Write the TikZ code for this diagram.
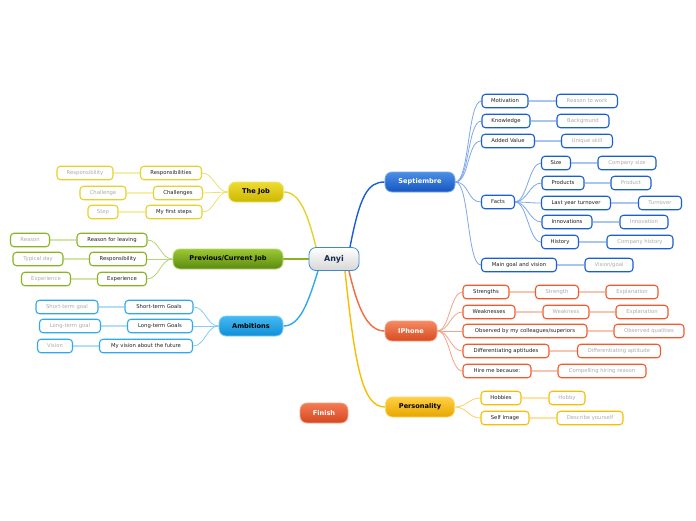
\documentclass[tikz,border=0pt]{standalone}
\usepackage{fontspec}
\setmainfont{DejaVu Sans}
\usetikzlibrary{calc}
\pgfdeclarelayer{background}
\pgfsetlayers{background,main}
\definecolor{sepT}{HTML}{4A8EE6}\definecolor{sepB}{HTML}{1656C0}\definecolor{sepD}{HTML}{7AAAE8}
\definecolor{sepC}{HTML}{1A5FD0}\definecolor{sepL}{HTML}{7EA8EA}\definecolor{sepLL}{HTML}{A8C6F2}
\definecolor{iphT}{HTML}{F58A62}\definecolor{iphB}{HTML}{D84A20}\definecolor{iphD}{HTML}{F5A080}
\definecolor{iphC}{HTML}{F05A2C}\definecolor{iphL}{HTML}{F6A488}\definecolor{iphLL}{HTML}{F8C4B2}
\definecolor{perT}{HTML}{FFD042}\definecolor{perB}{HTML}{E6A600}\definecolor{perD}{HTML}{FFD870}
\definecolor{perC}{HTML}{F8BE00}\definecolor{perL}{HTML}{FBD060}\definecolor{perLL}{HTML}{FDE2A0}
\definecolor{jobT}{HTML}{EEDC34}\definecolor{jobB}{HTML}{CCB600}\definecolor{jobD}{HTML}{F2E670}
\definecolor{jobC}{HTML}{E6D22A}\definecolor{jobL}{HTML}{EEE070}\definecolor{jobLL}{HTML}{F6EEAA}
\definecolor{prvT}{HTML}{9CC832}\definecolor{prvB}{HTML}{5A8A10}\definecolor{prvD}{HTML}{B6D870}
\definecolor{prvC}{HTML}{88B422}\definecolor{prvL}{HTML}{B4D478}\definecolor{prvLL}{HTML}{D0E6A8}
\definecolor{ambT}{HTML}{44BAF2}\definecolor{ambB}{HTML}{108ED6}\definecolor{ambD}{HTML}{80D0F6}
\definecolor{ambC}{HTML}{30A8EC}\definecolor{ambL}{HTML}{84CCF4}\definecolor{ambLL}{HTML}{B2DEF8}
\definecolor{finT}{HTML}{F47A52}\definecolor{finB}{HTML}{D44820}\definecolor{finD}{HTML}{F6A488}
\definecolor{anyC}{HTML}{3A8AD0}\definecolor{anyT}{HTML}{1A2A50}
\tikzset{
  mainbox/.style={rounded corners=7pt, minimum height=20pt, inner sep=0pt, line width=0.8pt,
    font=\bfseries\fontsize{6.6}{7}\selectfont},
  subbox/.style={draw, fill=white, rounded corners=3.5pt, minimum height=13.5pt, inner sep=0pt,
    line width=1.1pt, font=\fontsize{5.3}{6}\selectfont, text=black!88},
  leafbox/.style={subbox, text=black!33},
  subS/.style={subbox, draw=sepC}, leafS/.style={leafbox, draw=sepC},
  subI/.style={subbox, draw=iphC}, leafI/.style={leafbox, draw=iphC},
  subP/.style={subbox, draw=perC}, leafP/.style={leafbox, draw=perC},
  subJ/.style={subbox, draw=jobC}, leafJ/.style={leafbox, draw=jobC},
  subV/.style={subbox, draw=prvC}, leafV/.style={leafbox, draw=prvC},
  subA/.style={subbox, draw=ambC}, leafA/.style={leafbox, draw=ambC},
  link/.style={line width=0.8pt},
  leaflink/.style={line width=1.4pt},
  hub/.style={line width=1.4pt},
}
\begin{document}
\begin{tikzpicture}[x=1pt,y=-1pt]
\useasboundingbox (0,0) rectangle (696,520);
% central
\node[mainbox, draw=anyC, top color=white, bottom color=black!16, text=anyT,
  font=\bfseries\fontsize{8}{9}\selectfont, minimum width=50pt, minimum height=23pt] (anyi) at (334,259) {Anyi};
% main topics
\node[mainbox, draw=sepD, top color=sepT, bottom color=sepB, text=white, minimum width=70pt] (sep) at (420,182) {Septiembre};
\node[mainbox, draw=iphD, top color=iphT, bottom color=iphB, text=white, minimum width=52pt] (iph) at (411,331) {IPhone};
\node[mainbox, draw=perD, top color=perT, bottom color=perB, text=black, minimum width=69pt] (pers) at (420,407) {Personality};
\node[mainbox, draw=finD, top color=finT, bottom color=finB, text=white, minimum width=48pt] (fin) at (324,413) {Finish};
\node[mainbox, draw=jobD, top color=jobT, bottom color=jobB, text=black, minimum width=55pt] (job) at (256,192) {The Job};
\node[mainbox, draw=prvD, top color=prvT, bottom color=prvB, text=black, minimum width=110pt] (prev) at (228,259) {Previous/Current Job};
\node[mainbox, draw=ambD, top color=ambT, bottom color=ambB, text=black, minimum width=64pt] (amb) at (251,326) {Ambitions};
% Septiembre
\node[subS, minimum width=46pt] (mot) at (505,101) {Motivation};
\node[leafS, minimum width=61pt] (rtw) at (587,101) {Reason to work};
\node[subS, minimum width=48pt] (kno) at (506,121) {Knowledge};
\node[leafS, minimum width=52pt] (bg) at (583,121) {Background};
\node[subS, minimum width=53pt] (av) at (508,141) {Added Value};
\node[leafS, minimum width=51pt] (us) at (587,141) {Unique skill};
\node[subS, minimum width=33pt] (facts) at (498,202) {Facts};
\node[subS, minimum width=29pt] (size) at (556,163) {Size};
\node[leafS, minimum width=58pt] (csize) at (627,163) {Company size};
\node[subS, minimum width=42pt] (prod) at (563,183) {Products};
\node[leafS, minimum width=40pt] (product) at (631,183) {Product};
\node[subS, minimum width=69pt] (lyt) at (576,203) {Last year turnover};
\node[leafS, minimum width=43pt] (turn) at (660,203) {Turnover};
\node[subS, minimum width=50pt] (inn) at (567,222) {Innovations};
\node[leafS, minimum width=48pt] (innov) at (644,222) {Innovation};
\node[subS, minimum width=37pt] (hist) at (560,242) {History};
\node[leafS, minimum width=66pt] (chist) at (640,242) {Company history};
\node[subS, minimum width=75pt] (mgv) at (519,265) {Main goal and vision};
\node[leafS, minimum width=48pt] (vg) at (609,265) {Vision/goal};
% IPhone
\node[subI, minimum width=46pt] (str) at (486,292) {Strengths};
\node[leafI, minimum width=43pt] (strength) at (557,292) {Strength};
\node[leafI, minimum width=52pt] (expla) at (632,292) {Explanation};
\node[subI, minimum width=52pt] (weak) at (489,312) {Weaknesses};
\node[leafI, minimum width=46pt] (weakness) at (566,312) {Weakness};
\node[leafI, minimum width=52pt] (explb) at (642,312) {Explanation};
\node[subI, minimum width=124pt] (obs) at (525,331) {Observed by my colleagues/superiors};
\node[leafI, minimum width=70pt] (obsq) at (649,331) {Observed qualities};
\node[subI, minimum width=86pt] (diff) at (506,351) {Differentiating aptitudes};
\node[leafI, minimum width=83pt] (diffa) at (619,351) {Differentiating aptitude};
\node[subI, minimum width=68pt] (hire) at (497,371) {Hire me because:};
\node[leafI, minimum width=88pt] (comp) at (602,371) {Compelling hiring reason};
% Personality
\node[subP, minimum width=40pt] (hob) at (501,398) {Hobbies};
\node[leafP, minimum width=36pt] (hobby) at (567,398) {Hobby};
\node[subP, minimum width=48pt] (self) at (505,418) {Self Image};
\node[leafP, minimum width=66pt] (desc) at (590,418) {Describe yourself};
% The Job
\node[subJ, minimum width=61pt] (resp) at (171,173) {Responsibilities};
\node[leafJ, minimum width=56pt] (respl) at (85,173) {Responsibility};
\node[subJ, minimum width=49pt] (chal) at (178,193) {Challenges};
\node[leafJ, minimum width=46pt] (chall) at (103,193) {Challenge};
\node[subJ, minimum width=56pt] (mfs) at (174,212) {My first steps};
\node[leafJ, minimum width=30pt] (stepl) at (103,212) {Step};
% Previous
\node[subV, minimum width=70pt] (rfl) at (112,240) {Reason for leaving};
\node[leafV, minimum width=39pt] (reason) at (30,240) {Reason};
\node[subV, minimum width=57pt] (resp2) at (118,259) {Responsibility};
\node[leafV, minimum width=50pt] (tday) at (38,259) {Typical day};
\node[subV, minimum width=49pt] (exp) at (122,279) {Experience};
\node[leafV, minimum width=49pt] (expl) at (46,279) {Experience};
% Ambitions
\node[subA, minimum width=68pt] (stg) at (159,307) {Short-term Goals};
\node[leafA, minimum width=62pt] (stgl) at (67,307) {Short-term goal};
\node[subA, minimum width=65pt] (ltg) at (160,326) {Long-term Goals};
\node[leafA, minimum width=61pt] (ltgl) at (70,326) {Long-term goal};
\node[subA, minimum width=93pt] (vis) at (146,346) {My vision about the future};
\node[leafA, minimum width=35pt] (visl) at (55,346) {Vision};
\begin{pgfonlayer}{background}
\fill[white] (0,0) rectangle (696,520);
% hub connectors
\draw[hub, draw=sepC] ($(anyi.north)+(16,0)$) .. controls (360,195) and (368,182) .. (sep.west);
\draw[hub, draw=iphC!90] ($(anyi.south)+(15,0)$) .. controls (358,310) and (368,331) .. (iph.west);
\draw[hub, draw=perC] ($(anyi.south)+(11,0)$) .. controls (355,365) and (362,407) .. (pers.west);
\draw[hub, draw=jobC] ($(anyi.north)+(-18,0)$) .. controls (308,215) and (300,192) .. (job.east);
\draw[hub, draw=prvC] (anyi.west) -- (prev.east);
\draw[hub, draw=ambC] ($(anyi.south)+(-16,0)$) .. controls (308,303) and (300,326) .. (amb.east);
% topic connectors
\foreach \c in {mot,kno,av,facts,mgv}
  \draw[link, draw=sepL] (sep.east) .. controls +(14,0) and +(-14,0) .. (\c.west);
\foreach \c in {size,prod,lyt,inn,hist}
  \draw[link, draw=sepL] (facts.east) .. controls +(12,0) and +(-12,0) .. (\c.west);
\foreach \c in {str,weak,obs,diff,hire}
  \draw[link, draw=iphL] (iph.east) .. controls +(12,0) and +(-12,0) .. (\c.west);
\foreach \c in {hob,self}
  \draw[link, draw=perL] (pers.east) .. controls +(12,0) and +(-12,0) .. (\c.west);
\foreach \c in {resp,chal,mfs}
  \draw[link, draw=jobL] (job.west) .. controls +(-12,0) and +(12,0) .. (\c.east);
\foreach \c in {rfl,resp2,exp}
  \draw[link, draw=prvL] (prev.west) .. controls +(-12,0) and +(12,0) .. (\c.east);
\foreach \c in {stg,ltg,vis}
  \draw[link, draw=ambL] (amb.west) .. controls +(-12,0) and +(12,0) .. (\c.east);
% leaf connectors
\foreach \a/\b in {mot/rtw,kno/bg,av/us,size/csize,prod/product,lyt/turn,inn/innov,hist/chist,mgv/vg}
  \draw[leaflink, draw=sepLL] (\a.east) -- (\b.west);
\foreach \a/\b in {str/strength,strength/expla,weak/weakness,weakness/explb,obs/obsq,diff/diffa,hire/comp}
  \draw[leaflink, draw=iphLL] (\a.east) -- (\b.west);
\foreach \a/\b in {hob/hobby,self/desc}
  \draw[leaflink, draw=perLL] (\a.east) -- (\b.west);
\foreach \a/\b in {resp/respl,chal/chall,mfs/stepl}
  \draw[leaflink, draw=jobLL] (\a.west) -- (\b.east);
\foreach \a/\b in {rfl/reason,resp2/tday,exp/expl}
  \draw[leaflink, draw=prvLL] (\a.west) -- (\b.east);
\foreach \a/\b in {stg/stgl,ltg/ltgl,vis/visl}
  \draw[leaflink, draw=ambLL] (\a.west) -- (\b.east);
\end{pgfonlayer}
\end{tikzpicture}
\end{document}
